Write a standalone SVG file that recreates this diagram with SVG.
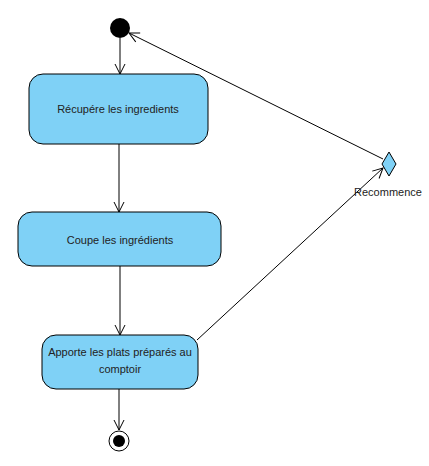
<svg xmlns="http://www.w3.org/2000/svg" width="429" height="466" viewBox="0 0 429 466">
<style>
.act{fill:#7fd1f6;stroke:#000;stroke-width:1}
.lbl{font-family:"Liberation Sans",Arial,sans-serif;font-size:11px;fill:#222;text-anchor:middle}
.edge{fill:none;stroke:#000;stroke-width:1}
</style>
<defs>
<marker id="open" viewBox="0 0 12 12" refX="11" refY="6" markerWidth="12" markerHeight="12" markerUnits="userSpaceOnUse" orient="auto">
<path d="M1,1 L11,6 L1,11" fill="none" stroke="#000" stroke-width="1"/>
</marker>
</defs>
<rect width="429" height="466" fill="#fff"/>
<g id="connectors">
<line class="edge" x1="120" y1="38" x2="120" y2="74" marker-end="url(#open)"/>
<line class="edge" x1="119" y1="144" x2="119" y2="212" marker-end="url(#open)"/>
<line class="edge" x1="120" y1="266" x2="120" y2="335" marker-end="url(#open)"/>
<line class="edge" x1="119" y1="389" x2="119" y2="430" marker-end="url(#open)"/>
<line class="edge" x1="197" y1="340" x2="383" y2="168" marker-end="url(#open)"/>
<line class="edge" x1="383" y1="159" x2="129" y2="33" marker-end="url(#open)"/>
</g>
<g id="start"><circle cx="120" cy="28" r="10" fill="#000"/></g>
<g id="n1"><rect class="act" x="29" y="74" width="179" height="70" rx="14"/><text class="lbl" x="118" y="113">Récupére les ingredients</text></g>
<g id="n2"><rect class="act" x="18" y="212" width="203" height="54" rx="14"/><text class="lbl" x="120" y="244">Coupe les ingrédients</text></g>
<g id="n3"><rect class="act" x="42" y="335" width="156" height="54" rx="14"/><text class="lbl" x="120" y="356">Apporte les plats préparés au</text><text class="lbl" x="120" y="373">comptoir</text></g>
<g id="decision"><polygon class="act" points="389,152 396,164 389,176 382,164"/><text class="lbl" x="388" y="196">Recommence</text></g>
<g id="end"><circle cx="119" cy="441" r="10" fill="#fff" stroke="#000" stroke-width="1"/><circle cx="119" cy="441" r="6" fill="#000"/></g>
</svg>
